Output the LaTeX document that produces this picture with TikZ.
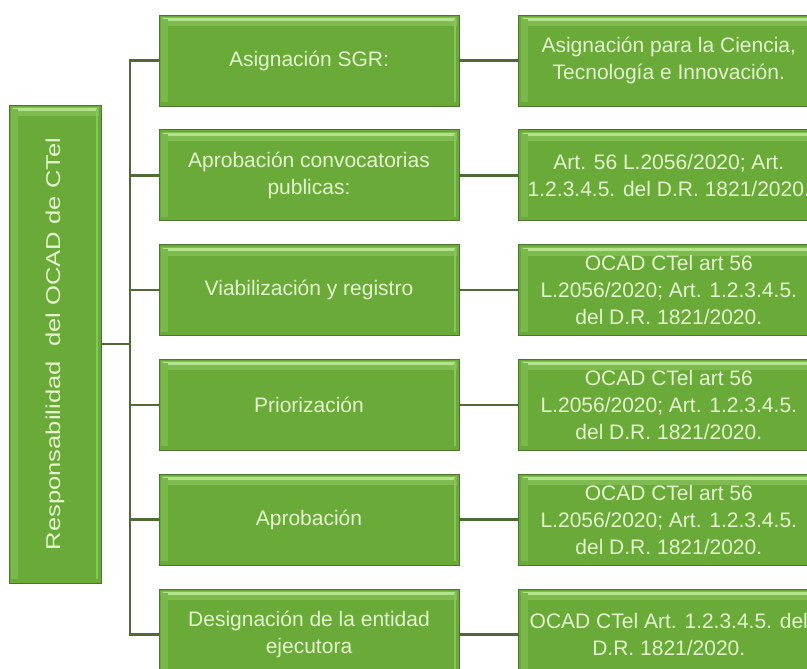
\documentclass[tikz,border=0pt]{standalone}
\usepackage{fontspec}
\setmainfont{Liberation Sans}
\newfontfamily\widefont[FakeStretch=1.28]{Liberation Sans}
\usepackage{tikz}
\usetikzlibrary{positioning}
\definecolor{boxfill}{HTML}{69AA38}
\definecolor{boxline}{HTML}{4E7530}
\definecolor{boxlight}{HTML}{B2E38A}
\definecolor{boxtext}{HTML}{E4F6CE}
\definecolor{linkcol}{HTML}{4F6A36}
\tikzstyle{box} = [rectangle, minimum width=300pt, minimum height=91pt,
inner sep=2pt, align=center, draw=boxline, line width=0.8pt, fill=boxfill,
text=boxtext, font=\fontsize{21}{27}\selectfont,
path picture={
\fill[boxfill!70!boxlight]
([xshift=2pt,yshift=-2pt]path picture bounding box.north west) rectangle
([xshift=-2pt,yshift=-11pt]path picture bounding box.north east);
\fill[boxlight]
([xshift=4pt,yshift=-3pt]path picture bounding box.north west) rectangle
([xshift=-4pt,yshift=-6pt]path picture bounding box.north east);
\fill[boxfill!75!boxlight]
([xshift=2pt,yshift=-4pt]path picture bounding box.north west) rectangle
([xshift=9pt,yshift=4pt]path picture bounding box.south west);
\fill[boxfill!55!boxlight]
([xshift=-5pt,yshift=-4pt]path picture bounding box.north east) rectangle
([xshift=-3pt,yshift=4pt]path picture bounding box.south east);}]
\tikzstyle{link} = [draw=linkcol, line width=2.5pt]

\begin{document}
\begin{tikzpicture}[x=1pt, y=-1pt, node distance=23pt and 59pt]

\useasboundingbox (0,0) rectangle (807,669);

\node(resp)[box, minimum width=92pt, minimum height=478pt] at (55,344)
{\rotatebox{90}{\widefont\fontsize{20}{26}\selectfont Responsabilidad\ \ del OCAD de CTel}};

\node(asig)[box] at (309,60.5){Asignación SGR:};
\node(conv)[box, below=of asig]{Aprobación convocatorias\\publicas:};
\node(viab)[box, below=of conv]{Viabilización y registro};
\node(prio)[box, below=of viab]{Priorización};
\node(aprob)[box, below=of prio]{Aprobación};
\node(desig)[box, below=of aprob]{Designación de la entidad\\ejecutora};

\node(asigD)[box, right=of asig]{Asignación para la Ciencia,\\Tecnología e Innovación.};
\node(convD)[box, right=of conv]{Art. 56 L.2056/2020; Art.\\1.2.3.4.5. del D.R. 1821/2020.};
\node(viabD)[box, right=of viab]{OCAD CTel art 56\\L.2056/2020; Art. 1.2.3.4.5.\\del D.R. 1821/2020.};
\node(prioD)[box, right=of prio]{OCAD CTel art 56\\L.2056/2020; Art. 1.2.3.4.5.\\del D.R. 1821/2020.};
\node(aprobD)[box, right=of aprob]{OCAD CTel art 56\\L.2056/2020; Art. 1.2.3.4.5.\\del D.R. 1821/2020.};
\node(desigD)[box, right=of desig]{OCAD CTel Art. 1.2.3.4.5. del\\D.R. 1821/2020.};

\coordinate(trunk) at (130,0);
\draw[link](resp.east) -- (trunk |- resp.east);
\draw[link](asig.west) -- (trunk |- asig.west) -- (trunk |- desig.west) -- (desig.west);
\foreach \n in {conv,viab,prio,aprob}
  \draw[link](\n.west) -- (trunk |- \n.west);
\foreach \n in {asig,conv,viab,prio,aprob,desig}
  \draw[link](\n) -- (\n D);

\end{tikzpicture}
\end{document}
